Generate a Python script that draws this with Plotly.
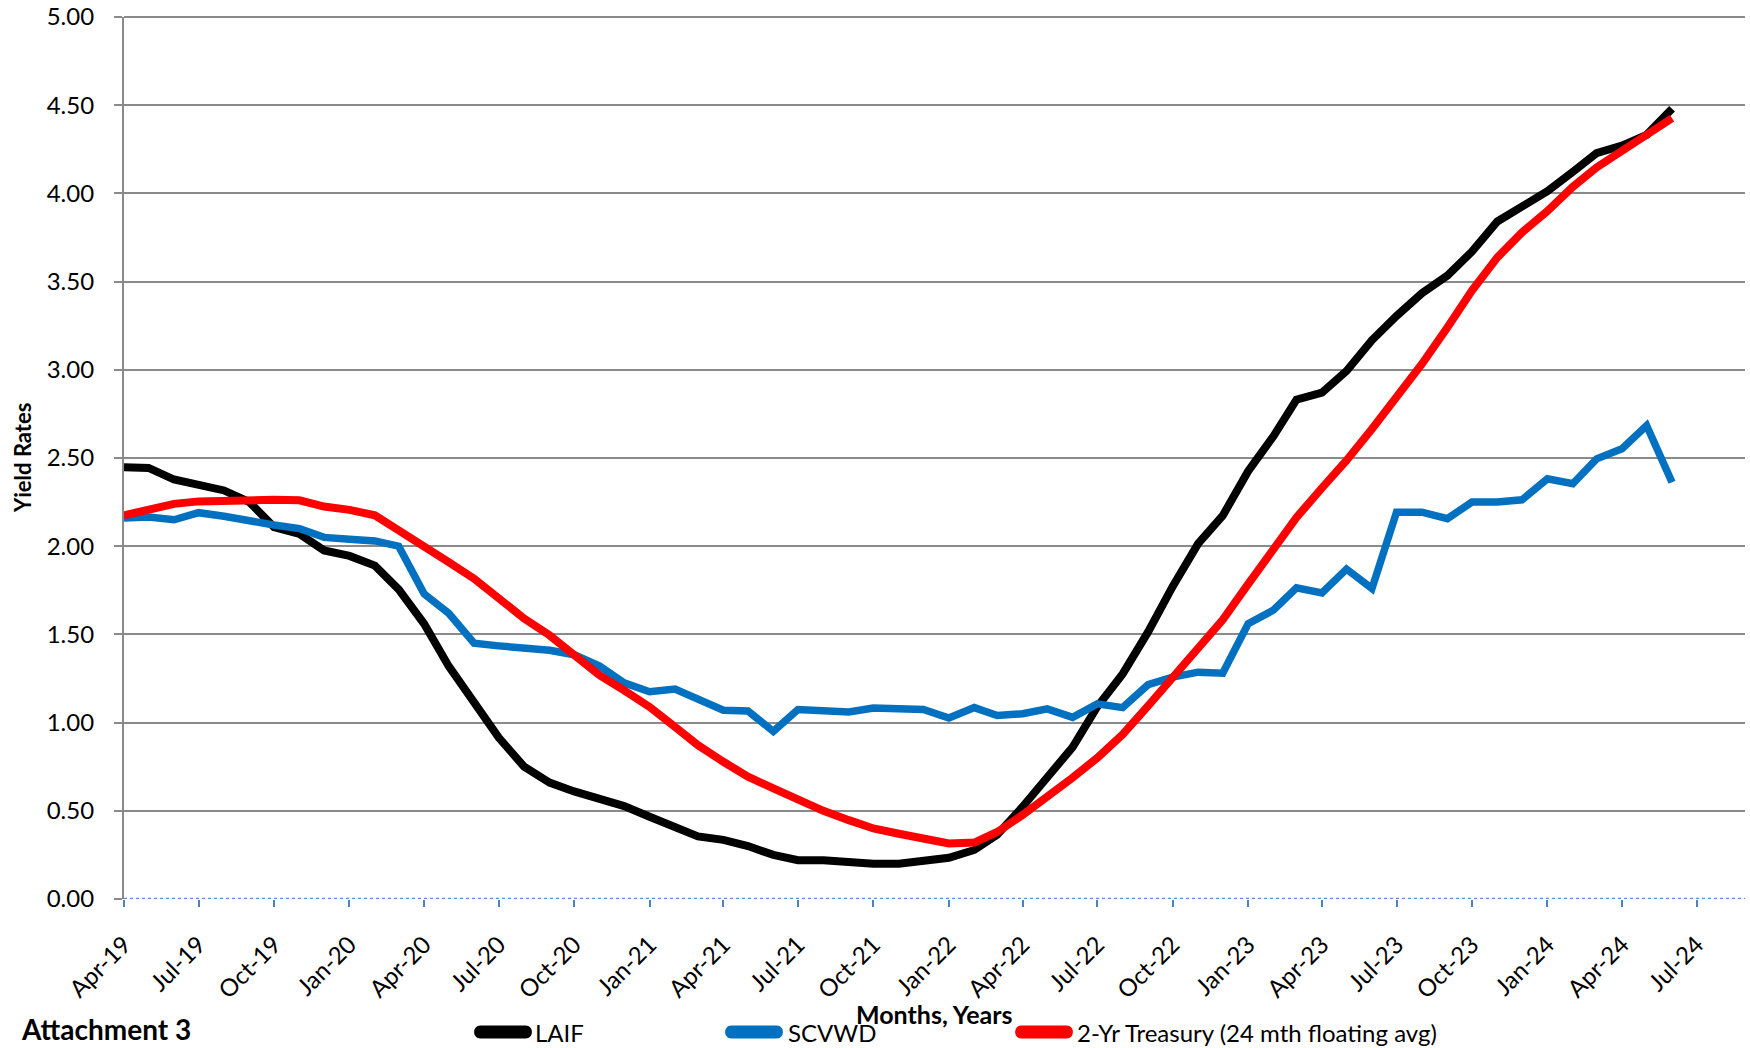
import plotly.graph_objects as go
import pandas as pd

months = pd.date_range("2019-04-01", periods=63, freq="MS")

laif = [2.448, 2.444, 2.378, 2.352, 2.316, 2.250, 2.108, 2.070, 1.976, 1.945,
        1.890, 1.755, 1.560, 1.320, 1.110, 0.915, 0.750, 0.660, 0.610, 0.570,
        0.527, 0.466, 0.410, 0.355, 0.335, 0.300, 0.250, 0.220, 0.220, 0.205,
        0.200, 0.200, 0.212, 0.234, 0.278, 0.365, 0.523, 0.684, 0.861, 1.090,
        1.276, 1.514, 1.772, 2.014, 2.173, 2.425, 2.624, 2.831, 2.870, 2.993,
        3.168, 3.305, 3.434, 3.534, 3.670, 3.841, 3.929, 4.012, 4.122, 4.228,
        4.271, 4.332, 4.480]

scvwd = [2.160, 2.165, 2.150, 2.190, 2.170, 2.140, 2.120, 2.100, 2.050, 2.040,
         2.030, 2.000, 1.730, 1.620, 1.450, 1.435, 1.425, 1.410, 1.385, 1.320,
         1.225, 1.175, 1.190, 1.130, 1.070, 1.066, 0.950, 1.074, 1.070, 1.060,
         1.083, 1.080, 1.074, 1.026, 1.085, 1.040, 1.050, 1.078, 1.030, 1.106,
         1.085, 1.215, 1.258, 1.286, 1.280, 1.560, 1.638, 1.764, 1.735, 1.870,
         1.760, 2.193, 2.193, 2.156, 2.250, 2.250, 2.263, 2.382, 2.354, 2.495,
         2.552, 2.684, 2.363]

treasury = [2.175, 2.210, 2.240, 2.254, 2.260, 2.263, 2.263, 2.260, 2.225, 2.206,
            2.175, 2.090, 2.005, 1.910, 1.816, 1.707, 1.590, 1.495, 1.380, 1.268,
            1.183, 1.089, 0.976, 0.872, 0.778, 0.693, 0.627, 0.564, 0.500, 0.447,
            0.400, 0.370, 0.340, 0.315, 0.320, 0.380, 0.477, 0.575, 0.688, 0.800,
            0.933, 1.095, 1.258, 1.420, 1.583, 1.785, 1.985, 2.163, 2.330, 2.486,
            2.665, 2.845, 3.033, 3.240, 3.449, 3.637, 3.779, 3.900, 4.037, 4.147,
            4.245, 4.336, 4.426]

series_names = ["LAIF", "SCVWD", "2-Yr Treasury (24 mth floating avg)"]
series_colors = ["#000000", "#0070C0", "#FF0000"]
series_widths = [8, 7.5, 8]

FONT = "Lato, 'Open Sans', sans-serif"
GRID = "#8A8A8A"

W, H = 1750, 1048
# plot area in page pixels
PL, PR, PT, PB = 124, 1745, 17, 899

def px(xp):
    return (xp - PL) / (PR - PL)

def py(yp):
    return (PB - yp) / (PB - PT)

fig = go.Figure()
for name, vals, col, w in zip(series_names, [laif, scvwd, treasury], series_colors, series_widths):
    fig.add_trace(go.Scatter(x=months, y=vals, mode="lines", name=name,
                             line=dict(color=col, width=w), showlegend=False))

legend_y = py(1032)
legend_marker_x = [474, 725, 1015]
legend_text_x = [533, 786, 1075]

shapes = [
    dict(type="line", xref="paper", yref="paper", x0=0, x1=1, y0=1, y1=1,
         line=dict(color=GRID, width=2.2), layer="below"),
    dict(type="line", xref="paper", yref="y", x0=0, x1=1, y0=0, y1=0,
         line=dict(color="#5B8ED6", width=2.5, dash="dot"), layer="above"),
]
annotations = []
pill = "M6.5,-6.5 L51.5,-6.5 C60,-6.5 60,6.5 51.5,6.5 L6.5,6.5 C-2,6.5 -2,-6.5 6.5,-6.5 Z"
for name, col, mx, tx in zip(series_names, series_colors, legend_marker_x, legend_text_x):
    shapes.append(dict(type="path", xref="paper", yref="paper",
                       xsizemode="pixel", ysizemode="pixel",
                       xanchor=px(mx), yanchor=legend_y, path=pill,
                       fillcolor=col, line=dict(width=0)))
    annotations.append(dict(text=name, xref="paper", yref="paper", x=px(tx), y=legend_y,
                            xanchor="left", yanchor="middle", showarrow=False,
                            font=dict(family=FONT, size=24, color="#000000")))

annotations += [
    dict(text="<b>Yield Rates</b>", xref="paper", yref="paper", x=px(22), y=py(458),
         textangle=-90, showarrow=False, xanchor="center", yanchor="middle",
         font=dict(family=FONT, size=22, color="#000000")),
    dict(text="<b>Months, Years</b>", xref="paper", yref="paper", x=0.5, y=py(1014),
         showarrow=False, xanchor="center", yanchor="middle",
         font=dict(family=FONT, size=25, color="#000000")),
    dict(text="<b>Attachment 3</b>", xref="paper", yref="paper", x=px(19), y=py(1029),
         showarrow=False, xanchor="left", yanchor="middle",
         font=dict(family=FONT, size=28, color="#000000")),
]

fig.update_layout(
    width=W, height=H,
    margin=dict(l=PL, r=W - PR, t=PT, b=H - PB, autoexpand=False),
    paper_bgcolor="white", plot_bgcolor="white",
    font=dict(family=FONT, color="#000000"),
    showlegend=False,
    xaxis=dict(
        type="date", automargin=False,
        range=["2019-04-01", "2024-08-29"],
        tick0="2019-04-01", dtick="M3", tickformat="%b-%y",
        tickangle=-45, ticks="outside", ticklen=7, tickcolor="#4F81BD",
        tickwidth=1.5, ticklabelstandoff=14,
        tickfont=dict(family=FONT, size=24, color="#000000"),
        showgrid=False, showline=False, zeroline=False,
    ),
    yaxis=dict(
        range=[0, 5], dtick=0.5, tickformat=".2f", automargin=False,
        showgrid=True, gridcolor=GRID, gridwidth=2.2,
        showline=True, linecolor=GRID, linewidth=2.2,
        ticks="outside", ticklen=8, tickcolor=GRID, tickwidth=2,
        ticklabelstandoff=15, ticklabeloverflow="allow",
        zeroline=False,
        tickfont=dict(family=FONT, size=24, color="#000000"),
    ),
    shapes=shapes,
    annotations=annotations,
)

fig.write_html("out.html", config={"displayModeBar": False},
               post_script="document.body.style.margin='0px';")
